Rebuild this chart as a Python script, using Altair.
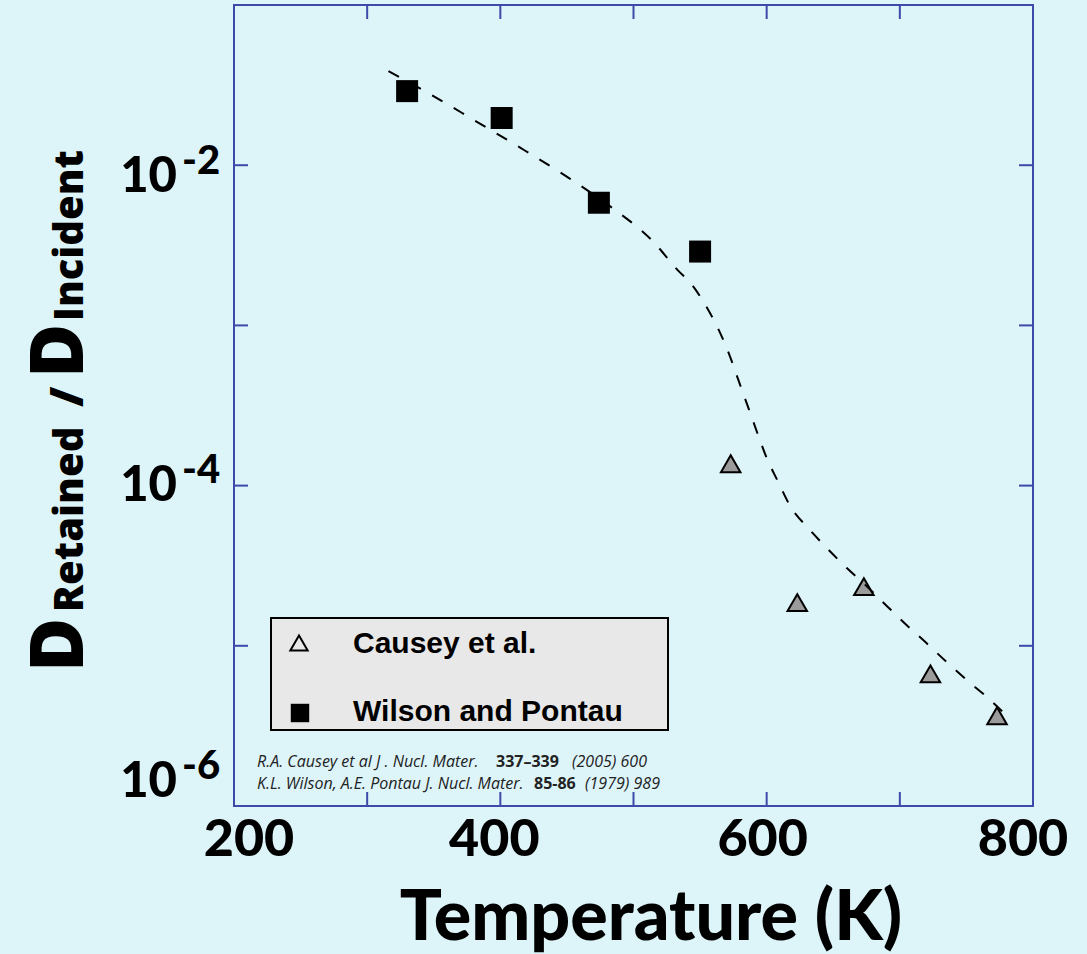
import altair as alt
import pandas as pd

# Wilson and Pontau: retained fraction vs temperature (filled squares)
wp_temp = [330, 401, 474, 550]
wp_ratio = [0.029, 0.0197, 0.00583, 0.00289]

# Causey et al.: retained fraction vs temperature (grey triangles)
causey_temp = [573, 623, 673, 723, 773]
causey_ratio = [1.37e-4, 1.86e-5, 2.34e-5, 6.68e-6, 3.66e-6]

# Dashed trend curve through both data sets
fit_temp = [316, 343, 379, 414, 449, 483, 515, 533, 544, 554, 564, 572, 579,
            586, 593, 600, 609, 618, 631, 645, 660, 674, 690, 705, 720, 735,
            750, 766, 781]
fit_ratio = [0.0387, 0.0291, 0.0194, 0.0130, 0.00857, 0.00549, 0.00332,
             0.00222, 0.00179, 0.00134, 9.37e-4, 6.55e-4, 4.50e-4, 3.10e-4,
             2.13e-4, 1.49e-4, 1.04e-4, 7.37e-5, 5.45e-5, 4.09e-5, 3.07e-5,
             2.40e-5, 1.78e-5, 1.35e-5, 1.04e-5, 7.94e-6, 6.14e-6, 4.74e-6,
             3.61e-6]

# Axis ticks and labels
x_minor_ticks = [300, 400, 500, 600, 700]
y_minor_ticks = [1e-5, 1e-4, 1e-3, 1e-2]
x_tick_labels = [200, 400, 600, 800]
y_label_exponents = [-2, -4, -6]

# Reference lines: (text, style) segments
ref_line1 = [("R.A. Causey et al  J . Nucl. Mater.", "italic"),
             ("337\u2013339", "bold"),
             ("(2005)  600", "italic")]
ref_line2 = [("K.L. Wilson, A.E. Pontau J. Nucl. Mater.", "italic"),
             ("85-86", "bold"),
             ("(1979) 989", "italic")]

W, H = 799, 801
FRAME = "#3d4aa9"
BG = "#ddf4f9"
FONT = "Lato"
FONT2 = "Open Sans"

xs = alt.Scale(domain=[200, 800], nice=False, zero=False)
ys = alt.Scale(type="log", domain=[1e-6, 1e-1], nice=False)


def X(field="T"):
    return alt.X(f"{field}:Q", scale=xs, axis=None)


def Y(field="R"):
    return alt.Y(f"{field}:Q", scale=ys, axis=None)


one = pd.DataFrame({"k": [0]})

# Inward ticks on all four sides
xt = pd.DataFrame({"T": x_minor_ticks})
yt = pd.DataFrame({"R": y_minor_ticks})
tick_style = dict(color=FRAME, strokeWidth=2)
ticks = [
    alt.Chart(xt).mark_rule(**tick_style).encode(x=X(), y=alt.value(H), y2=alt.value(H - 14)),
    alt.Chart(xt).mark_rule(**tick_style).encode(x=X(), y=alt.value(0), y2=alt.value(14)),
    alt.Chart(yt).mark_rule(**tick_style).encode(y=Y(), x=alt.value(0), x2=alt.value(14)),
    alt.Chart(yt).mark_rule(**tick_style).encode(y=Y(), x=alt.value(W - 14), x2=alt.value(W)),
]

fit = alt.Chart(pd.DataFrame({"T": fit_temp, "R": fit_ratio})).mark_line(
    color="black", strokeWidth=2, strokeDash=[12, 13], interpolate="monotone"
).encode(x=X(), y=Y())

causey = alt.Chart(pd.DataFrame({"T": causey_temp, "R": causey_ratio})).mark_point(
    shape="triangle-up", filled=True, fill="#9b9b9b", stroke="black",
    strokeWidth=2, size=380, opacity=1
).encode(x=X(), y=Y())

wilson = alt.Chart(pd.DataFrame({"T": wp_temp, "R": wp_ratio})).mark_point(
    shape="square", filled=True, color="black", size=484, opacity=1
).encode(x=X(), y=Y())

# X tick labels
x_label_layers = []
for v, dx in zip(x_tick_labels, [15, -6, -4, -10]):
    x_label_layers.append(
        alt.Chart(pd.DataFrame({"T": [v]})).mark_text(
            text=str(v), font=FONT, fontWeight=900, fontSize=52, color="black",
            align="center", baseline="alphabetic", dx=dx
        ).encode(x=X(), y=alt.value(851))
    )

# Y tick labels: "10" with a raised exponent
y_label_layers = []
for e, dy in zip(y_label_exponents, [27, 15, -9]):
    d = pd.DataFrame({"R": [10.0 ** e]})
    y_label_layers.append(
        alt.Chart(d).mark_text(
            text="10", font=FONT, fontWeight=900, fontSize=49, color="black",
            align="right", baseline="alphabetic", dy=dy
        ).encode(y=Y(), x=alt.value(-57))
    )
    y_label_layers.append(
        alt.Chart(d).mark_text(
            text=f"-{abs(e)}", font=FONT, fontWeight=900, fontSize=40, color="black",
            align="left", baseline="alphabetic", dy=dy - 18
        ).encode(y=Y(), x=alt.value(-52))
    )

# Axis titles
x_title = alt.Chart(one).mark_text(
    text="Temperature (K)", font=FONT, fontWeight=900, fontSize=70,
    color="black", align="center", baseline="alphabetic"
).encode(x=alt.value(417), y=alt.value(935))

y_title_parts = [("D", 74, 667), ("Retained", 40, 607), ("/", 46, 402),
                 ("D", 74, 373), ("Incident", 40, 316)]
y_title_layers = [
    alt.Chart(one).mark_text(
        text=t, font=FONT2, fontWeight=800, fontSize=fs, color="black",
        align="left", baseline="alphabetic", angle=270
    ).encode(x=alt.value(-151), y=alt.value(yy))
    for t, fs, yy in y_title_parts
]

# Legend box
legend_box = alt.Chart(one).mark_rect(
    fill="#e8e8e8", stroke="black", strokeWidth=2
).encode(x=alt.value(37), x2=alt.value(434), y=alt.value(613), y2=alt.value(725))
legend_tri = alt.Chart(one).mark_point(
    shape="triangle-up", filled=True, fill="#e8e8e8", stroke="black",
    strokeWidth=2, size=300, opacity=1
).encode(x=alt.value(65), y=alt.value(638))
legend_sq = alt.Chart(one).mark_point(
    shape="square", filled=True, color="black", size=340, opacity=1
).encode(x=alt.value(66), y=alt.value(708))
legend_text = [
    alt.Chart(one).mark_text(
        text=t, font="Liberation Sans", fontWeight="bold", fontSize=30,
        color="black", align="left", baseline="alphabetic"
    ).encode(x=alt.value(119), y=alt.value(yy))
    for t, yy in [("Causey et al.", 648), ("Wilson and Pontau", 716)]
]

# Literature references
ref_layers = []
for segs, starts, yy in [(ref_line1, [23, 262, 338], 762), (ref_line2, [23, 300, 351], 784)]:
    for (t, style), x0 in zip(segs, starts):
        kw = dict(fontStyle="italic", fontWeight="normal") if style == "italic" else dict(fontStyle="normal", fontWeight="bold")
        ref_layers.append(
            alt.Chart(one).mark_text(
                text=t, font=FONT2, fontSize=16, color="#222222",
                align="left", baseline="alphabetic", **kw
            ).encode(x=alt.value(x0), y=alt.value(yy))
        )

chart = alt.layer(
    *ticks, causey, wilson, fit, *x_label_layers, *y_label_layers, x_title,
    *y_title_layers, legend_box, legend_tri, legend_sq, *legend_text, *ref_layers
).properties(
    width=W, height=H,
    autosize=alt.AutoSizeParams(type="none"),
    padding={"left": 234, "top": 5, "right": 54, "bottom": 148},
    background=BG,
).configure_view(stroke=FRAME, strokeWidth=2)

chart.save("out.html", embed_options={"renderer": "svg", "actions": False})
